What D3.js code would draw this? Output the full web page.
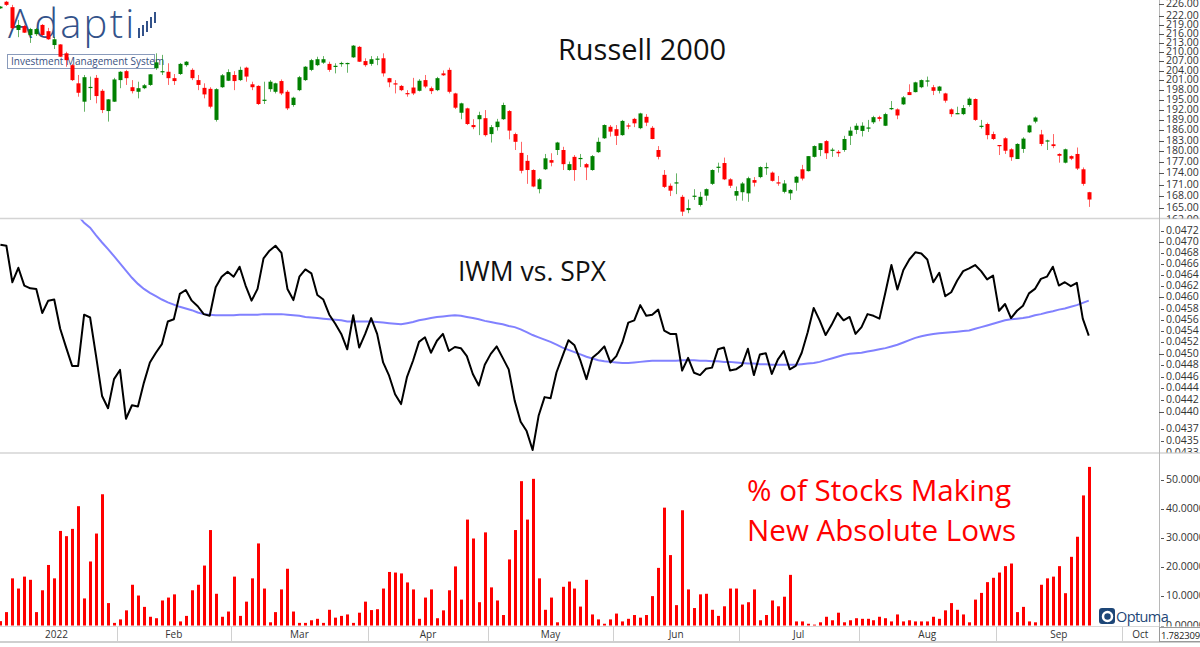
<!DOCTYPE html>
<html>
<head>
<meta charset="utf-8">
<script src="https://cdn.jsdelivr.net/npm/d3@7"></script>
<style>
  body { margin: 0; background: #fff; }
  text { font-family: "Open Sans", "Noto Sans", sans-serif; }
</style>
</head>
<body>
<div id="chart"></div>
<script>
// IWM daily candles, 3 Jan 2022 .. 23 Sep 2022 (one entry per trading day)
const opens = [224.6,226.9,225.0,217.2,218.5,215.5,215.8,218.9,216.8,212.2,212.4,209.5,205.7,200.0,194.4,198.6,201.7,197.7,191.6,194.4,
201.0,203.8,198.8,197.4,198.5,199.5,204.7,203.6,203.6,201.6,202.9,205.7,204.2,201.0,198.6,198.3,189.0,198.8,200.8,202.6,
201.0,204.9,199.7,199.2,194.8,198.2,197.4,200.7,197.4,193.4,197.9,201.0,204.2,205.7,206.5,206.1,205.2,206.2,206.2,208.2,
211.6,207.0,206.1,207.6,207.9,201.6,200.0,199.2,197.0,198.7,197.7,201.0,198.5,197.9,203.1,204.2,196.9,191.1,192.4,187.5,
189.2,189.5,184.9,186.9,189.2,191.6,184.9,179.6,177.4,174.9,169.8,175.1,177.6,180.4,180.4,174.9,178.5,178.0,176.5,174.9,
179.8,183.7,187.0,186.3,184.6,187.4,189.3,186.6,189.9,186.7,180.4,173.6,170.7,171.4,167.8,164.4,168.0,165.7,168.1,171.2,
175.6,176.8,172.4,168.1,169.0,168.7,172.2,173.0,175.5,174.2,171.6,169.1,168.7,171.5,175.1,174.6,178.5,180.4,182.9,180.3,
179.9,180.4,184.4,186.1,185.8,186.6,188.3,189.8,187.3,192.3,192.1,193.6,197.3,197.3,198.8,200.7,198.8,197.7,196.9,192.1,
190.8,190.7,193.4,195.2,187.1,187.8,184.9,181.8,183.7,180.6,177.9,180.7,185.4,188.5,184.8,182.9,182.0,179.3,176.9,178.7,
179.3,175.1,169.0];
const highs = [225.4,227.2,225.8,220.6,218.9,217.9,217.9,219.2,217.9,214.9,212.5,210.0,206.1,202.6,202.6,202.1,202.6,198.2,195.2,201.7,
203.8,204.2,201.0,200.5,199.8,202.9,209.5,209.0,206.3,202.9,206.4,207.0,204.7,202.6,200.0,198.8,198.5,202.9,204.4,203.8,
205.2,205.2,200.5,199.4,200.5,201.0,200.2,201.2,197.9,195.9,202.3,205.4,207.7,208.4,208.6,206.8,206.3,206.8,206.5,212.2,
211.9,207.9,208.6,208.6,209.5,201.7,201.0,199.5,197.9,201.7,201.3,202.6,199.0,202.0,204.0,204.9,197.1,194.1,192.6,189.2,
191.4,191.9,187.5,189.3,194.1,191.9,185.3,182.7,179.0,175.1,172.7,179.3,179.5,182.7,181.3,177.2,179.0,179.3,176.8,179.0,
183.9,187.7,187.5,187.5,189.0,188.0,189.6,191.1,190.7,187.2,181.5,174.9,171.3,174.0,168.3,167.1,169.8,169.1,170.0,175.1,
176.9,178.3,172.7,170.5,171.7,173.1,173.0,175.9,176.9,174.5,173.3,172.2,169.8,173.3,176.3,178.7,181.7,182.3,183.2,181.0,
180.4,184.4,187.0,188.0,188.3,189.0,190.2,190.2,191.1,194.6,192.4,196.1,199.7,200.5,201.2,202.1,199.5,199.2,197.1,192.4,
192.9,193.4,195.7,195.4,189.0,188.2,185.6,181.8,184.0,180.9,182.3,184.0,187.6,190.0,186.1,183.3,184.9,179.5,180.8,178.9,
181.1,175.6,169.1];
const lows = [224.4,225.4,217.5,214.8,216.2,212.9,215.2,215.2,213.9,210.9,208.3,205.2,200.7,195.9,191.4,194.9,193.9,191.0,188.5,194.3,
198.5,199.5,196.9,195.4,198.2,199.2,204.2,202.6,199.5,199.5,202.6,205.2,201.0,197.9,195.4,192.4,188.5,198.6,200.7,197.9,
200.7,200.5,197.9,193.4,193.7,197.4,196.9,196.4,191.9,192.9,197.6,200.7,203.8,205.4,206.1,203.6,203.1,205.2,203.3,208.0,
206.7,205.2,205.5,205.7,202.1,198.8,196.9,197.6,195.9,196.4,197.5,198.5,196.7,197.6,202.3,196.9,192.2,189.2,187.5,186.3,
184.6,184.2,182.5,185.9,189.0,183.4,180.4,174.0,171.2,170.3,168.7,174.9,175.9,179.0,174.9,174.7,172.0,175.7,172.2,174.7,
179.6,183.5,184.2,181.8,184.4,186.3,186.9,186.3,187.2,183.4,177.8,170.1,168.0,168.5,162.9,163.6,167.0,165.3,166.8,170.9,
174.2,172.2,170.1,166.8,166.8,166.5,170.5,172.7,173.6,171.8,170.7,168.7,167.0,169.4,172.1,174.5,178.3,178.7,177.9,178.5,
178.5,179.9,181.8,184.9,184.2,185.5,187.8,188.6,187.2,191.9,189.2,193.4,196.4,197.2,198.5,199.0,196.4,196.9,194.1,189.9,
190.7,190.4,192.9,188.7,186.5,183.4,183.2,179.0,179.3,177.4,177.9,179.6,185.2,188.0,181.5,180.4,180.9,176.9,176.7,177.6,
174.9,170.7,165.2];
const closes = [225.2,225.8,217.8,218.9,216.3,217.5,217.5,215.5,214.1,214.1,208.4,207.3,201.0,197.1,201.9,198.9,196.1,191.9,195.1,201.2,
203.6,201.6,197.6,198.5,199.4,202.8,206.6,203.8,201.6,200.7,206.1,206.8,201.6,199.5,196.6,192.9,198.2,202.5,203.5,200.7,
204.2,202.1,198.8,193.7,195.0,200.5,200.0,196.9,192.4,195.6,201.9,205.2,207.3,207.6,207.6,204.2,205.5,206.4,206.4,212.0,
206.8,205.7,207.6,207.8,203.1,200.3,199.7,197.9,196.8,196.9,200.8,199.0,197.6,201.6,202.5,197.4,192.6,193.9,187.8,186.9,
190.4,184.6,186.9,188.5,193.4,185.9,182.7,174.7,174.9,170.5,172.4,178.1,176.9,182.5,176.5,176.5,174.9,178.2,175.6,178.7,
182.7,187.5,185.6,184.4,188.7,187.2,188.0,190.9,188.2,183.5,178.5,170.4,169.4,171.6,164.0,164.9,168.1,167.8,169.8,174.9,
175.8,172.4,170.7,169.3,171.3,172.7,171.5,175.7,175.7,172.0,171.3,171.3,169.6,173.1,172.6,178.7,181.5,182.3,179.5,180.5,
179.5,183.5,185.9,187.3,187.3,186.8,189.8,189.3,190.7,192.5,190.3,195.7,196.4,200.3,201.0,200.9,197.7,199.0,194.7,190.7,
191.0,192.5,195.3,189.0,187.3,184.6,183.5,181.5,180.2,178.4,182.1,183.6,187.4,189.7,182.1,183.1,181.5,178.8,180.6,178.0,
175.3,171.2,167.1];

// IWM / SPX ratio and its moving average (null where the average is off the top)
const ratio = [0.04695,0.04693,0.04627,0.04653,0.04621,0.04616,0.04615,0.04572,0.04594,0.04596,0.04544,0.04511,0.04479,0.04479,0.04569,0.04564,0.04496,0.04427,0.04406,0.04456,
0.04472,0.04388,0.04411,0.04409,0.04450,0.04485,0.04502,0.04517,0.04557,0.04561,0.04606,0.04613,0.04594,0.04584,0.04570,0.04567,0.04618,0.04637,0.04646,0.04637,
0.04655,0.04621,0.04594,0.04615,0.04670,0.04684,0.04693,0.04680,0.04615,0.04595,0.04637,0.04650,0.04643,0.04604,0.04596,0.04569,0.04553,0.04535,0.04508,0.04568,
0.04511,0.04535,0.04563,0.04535,0.04485,0.04462,0.04430,0.04413,0.04460,0.04488,0.04521,0.04529,0.04502,0.04523,0.04535,0.04505,0.04512,0.04510,0.04496,0.04465,
0.04445,0.04481,0.04500,0.04513,0.04493,0.04473,0.04419,0.04383,0.04367,0.04335,0.04393,0.04425,0.04423,0.04468,0.04496,0.04524,0.04515,0.04488,0.04456,0.04493,
0.04502,0.04513,0.04485,0.04496,0.04520,0.04555,0.04559,0.04586,0.04567,0.04569,0.04578,0.04541,0.04535,0.04535,0.04471,0.04493,0.04467,0.04463,0.04474,0.04476,
0.04508,0.04511,0.04471,0.04473,0.04480,0.04509,0.04463,0.04499,0.04501,0.04465,0.04490,0.04505,0.04473,0.04479,0.04502,0.04538,0.04581,0.04559,0.04533,0.04551,
0.04572,0.04559,0.04565,0.04535,0.04547,0.04570,0.04567,0.04562,0.04609,0.04658,0.04614,0.04649,0.04668,0.04681,0.04679,0.04668,0.04627,0.04644,0.04602,0.04609,
0.04630,0.04647,0.04652,0.04658,0.04647,0.04632,0.04639,0.04576,0.04588,0.04563,0.04576,0.04585,0.04607,0.04615,0.04633,0.04637,0.04655,0.04621,0.04627,0.04620,
0.04626,0.04562,0.04532];
const ratioAvg = [null,null,null,null,null,null,null,null,null,null,null,null,0.04762,0.04748,0.04735,0.04726,0.04712,0.04699,0.04687,0.04674,
0.04661,0.04648,0.04635,0.04624,0.04615,0.04608,0.04602,0.04596,0.04591,0.04587,0.04583,0.04580,0.04577,0.04573,0.04570,0.04569,0.04568,0.04568,0.04568,0.04568,
0.04569,0.04569,0.04569,0.04569,0.04570,0.04570,0.04570,0.04570,0.04569,0.04568,0.04567,0.04565,0.04564,0.04563,0.04562,0.04561,0.04560,0.04559,0.04557,0.04557,
0.04557,0.04557,0.04557,0.04556,0.04555,0.04554,0.04553,0.04552,0.04554,0.04556,0.04559,0.04561,0.04563,0.04565,0.04566,0.04567,0.04568,0.04567,0.04565,0.04563,
0.04561,0.04558,0.04556,0.04554,0.04552,0.04549,0.04547,0.04543,0.04538,0.04533,0.04529,0.04525,0.04521,0.04516,0.04511,0.04507,0.04503,0.04499,0.04495,0.04492,
0.04489,0.04487,0.04486,0.04485,0.04484,0.04484,0.04485,0.04486,0.04487,0.04488,0.04488,0.04488,0.04488,0.04488,0.04489,0.04489,0.04489,0.04488,0.04488,0.04487,
0.04487,0.04486,0.04486,0.04485,0.04484,0.04483,0.04483,0.04482,0.04482,0.04481,0.04481,0.04481,0.04481,0.04481,0.04482,0.04483,0.04484,0.04486,0.04489,0.04492,
0.04495,0.04498,0.04500,0.04501,0.04502,0.04504,0.04506,0.04508,0.04510,0.04513,0.04516,0.04520,0.04524,0.04528,0.04531,0.04533,0.04535,0.04536,0.04537,0.04538,
0.04539,0.04540,0.04541,0.04544,0.04547,0.04550,0.04553,0.04556,0.04559,0.04561,0.04562,0.04563,0.04565,0.04568,0.04570,0.04573,0.04575,0.04578,0.04580,0.04583,
0.04586,0.04590,0.04594];

// % of stocks making new absolute lows
const newLows = [1.5,4.6,16.2,12.7,16.8,15.7,4.6,12.1,20.8,16.2,32.5,30.7,33.2,41.0,9.3,22.0,31.6,45.1,7.7,0.9,
2.1,5.2,14.0,10.3,6.4,3.0,2.5,8.6,9.6,10.7,1.4,3.3,12.1,14.0,20.6,32.8,10.9,3.0,4.8,16.8,
3.3,8.2,16.2,28.2,12.7,1.1,4.6,12.4,19.5,4.8,0.9,0.9,1.8,2.3,0.9,5.4,2.7,3.3,3.8,0.9,
4.4,8.2,5.3,5.6,12.7,18.4,18.2,17.9,14.8,12.4,2.3,9.6,12.4,2.5,5.2,12.1,20.3,8.9,36.4,29.9,
8.0,32.0,13.1,8.6,3.6,22.7,32.8,49.6,36.4,50.4,16.2,5.4,9.6,1.1,13.3,15.1,12.7,6.5,15.7,3.8,
2.1,0.6,2.1,4.1,1.4,2.3,3.6,2.7,3.6,10.1,19.8,40.5,24.2,7.0,39.6,12.4,6.0,10.7,10.9,5.4,
3.3,6.6,12.7,12.7,7.2,8.0,12.4,1.8,3.6,8.6,6.6,9.9,17.4,1.4,1.4,0.6,0.3,1.1,3.0,1.8,
4.4,1.1,1.8,2.5,2.3,2.3,1.8,3.0,2.5,1.4,3.8,1.4,1.8,1.4,1.4,1.4,3.0,2.3,5.2,7.7,
5.4,3.8,1.1,8.9,11.2,14.9,16.4,18.2,20.4,21.3,4.6,6.4,1.4,1.1,14.0,16.2,16.8,20.4,11.1,23.6,
30.5,44.7,54.5];

// x axis: month labels and the trading-day index where each month starts
const monthLabels = ["2022","Feb","Mar","Apr","May","Jun","Jul","Aug","Sep","Oct"];
const monthStarts = [0,20,39,62,82,103,124,144,167,188];

// right axis tick values
const priceTicks = [162,165,168,171,174,177,180,183,186,189,192,195,198,201,204,207,210,213,216,219,222,226];
const ratioTicks = [0.0472,0.0470,0.0468,0.0466,0.0464,0.0462,0.0460,0.0458,0.0456,0.0454,0.0452,0.0450,0.0448,0.0446,0.0444,0.0442,0.0440,0.0437,0.0435,0.0433];
const lowsTicks = [0,10,20,30,40,50];

var width = 1200;
var height = 647;
var plotRight = 1159;
var n = closes.length;

const svg = d3.select("#chart")
    .append("svg")
    .attr("width", width)
    .attr("height", height);

const x = d3.scaleLinear().domain([0, n - 1]).range([0.4, 0.4 + 5.98 * (n - 1)]);
const yPrice = d3.scaleLog().domain([165, 226]).range([207.7, 4.3]);
const yRatio = d3.scaleLog().domain([0.0440, 0.0472]).range([411.7, 231]);
const yLows = d3.scaleLinear().domain([0, 50]).range([625.5, 480]);

// panels: [top, bottom]
const panels = [[0, 218.5], [219.5, 452.5], [453.5, 626.5]];
const defs = svg.append("defs");
panels.forEach(function (p, k) {
    defs.append("clipPath").attr("id", "clip" + k)
        .append("rect").attr("x", 0).attr("y", p[0]).attr("width", plotRight).attr("height", p[1] - p[0]);
    defs.append("clipPath").attr("id", "clipAxis" + k)
        .append("rect").attr("x", plotRight).attr("y", p[0]).attr("width", width - plotRight).attr("height", p[1] - p[0]);
});

// Adaptiv logo (sits behind the candles)
const logo = svg.append("g");
logo.append("text")
    .attr("x", 8).attr("y", 38)
    .attr("font-size", 40)
    .attr("font-weight", 300)
    .attr("letter-spacing", 2.2)
    .attr("fill", "#33528a")
    .attr("font-family", "Lato, sans-serif")
    .text("Adapti");
[[139, 28, 38], [143, 25, 36], [147, 21, 32], [151, 17, 28], [155, 12, 23]].forEach(function (b) {
    logo.append("line").attr("x1", b[0]).attr("x2", b[0]).attr("y1", b[1]).attr("y2", b[2])
        .attr("stroke", "#33528a").attr("stroke-width", 2);
});
logo.append("rect")
    .attr("x", 7.5).attr("y", 54.5).attr("width", 147).attr("height", 14)
    .attr("fill", "none").attr("stroke", "#8a9bbb");
logo.append("text")
    .attr("x", 11).attr("y", 65)
    .attr("font-size", 10)
    .attr("fill", "#3a5080")
    .text("Investment Management System");

// candles
const candles = svg.append("g").attr("clip-path", "url(#clip0)");
function candleColor(i) { return closes[i] >= opens[i] ? "#008000" : "#ff0000"; }

candles.selectAll(".wick")
    .data(d3.range(n))
    .enter().append("line")
    .attr("class", "wick")
    .attr("x1", i => Math.round(x(i)) + 0.5)
    .attr("x2", i => Math.round(x(i)) + 0.5)
    .attr("y1", i => yPrice(highs[i]))
    .attr("y2", i => yPrice(lows[i]))
    .attr("stroke", candleColor)
    .attr("stroke-opacity", 0.6)
    .attr("stroke-width", 1);

candles.selectAll(".body")
    .data(d3.range(n))
    .enter().append("rect")
    .attr("class", "body")
    .attr("x", i => Math.round(x(i)) - 1.5)
    .attr("width", 4)
    .attr("y", i => yPrice(Math.max(opens[i], closes[i])))
    .attr("height", i => Math.max(1.2, Math.abs(yPrice(opens[i]) - yPrice(closes[i]))))
    .attr("fill", candleColor);

// ratio panel
const mid = svg.append("g").attr("clip-path", "url(#clip1)");
mid.append("path")
    .datum(ratioAvg)
    .attr("fill", "none")
    .attr("stroke", "#6b6bff")
    .attr("stroke-opacity", 0.85)
    .attr("stroke-width", 2)
    .attr("d", d3.line().defined(d => d != null).x((d, i) => x(i)).y(d => yRatio(d)));
mid.append("path")
    .datum(ratio)
    .attr("fill", "none")
    .attr("stroke", "#000")
    .attr("stroke-width", 2)
    .attr("stroke-linejoin", "round")
    .attr("d", d3.line().x((d, i) => x(i)).y(d => yRatio(d)));

// new lows histogram
const bot = svg.append("g").attr("clip-path", "url(#clip2)");
bot.selectAll(".bar")
    .data(newLows)
    .enter().append("rect")
    .attr("class", "bar")
    .attr("x", (d, i) => Math.round(x(i)) - 1)
    .attr("width", 3)
    .attr("y", d => yLows(d))
    .attr("height", d => yLows(0) - yLows(d))
    .attr("fill", "#ff0000");

// titles
svg.append("text").attr("x", 642).attr("y", 60).attr("text-anchor", "middle")
    .attr("font-size", 29).attr("fill", "#111").text("Russell 2000");
svg.append("text").attr("x", 532).attr("y", 281).attr("text-anchor", "middle")
    .attr("font-size", 26.5).attr("fill", "#111").text("IWM vs. SPX");
svg.append("text").attr("x", 747).attr("y", 501)
    .attr("font-size", 29.6).attr("fill", "#ff0000").text("% of Stocks Making");
svg.append("text").attr("x", 747).attr("y", 541)
    .attr("font-size", 29.6).attr("fill", "#ff0000").text("New Absolute Lows");

// separators and right axis
[218.5, 453].forEach(function (yy) {
    svg.append("line").attr("x1", 0).attr("x2", width).attr("y1", yy).attr("y2", yy)
        .attr("stroke", "#d4d4d4").attr("stroke-width", 1.5);
});
svg.append("line").attr("x1", plotRight + 0.5).attr("x2", plotRight + 0.5).attr("y1", 0).attr("y2", 642)
    .attr("stroke", "#b8b8b8");

function rightAxis(k, scale, ticks, fmt, isLong) {
    const g = svg.append("g").attr("clip-path", "url(#clipAxis" + k + ")");
    ticks.forEach(function (t) {
        const yy = Math.round(scale(t)) + 0.5;
        const lng = isLong(t);
        g.append("line")
            .attr("x1", lng ? plotRight : plotRight + 2).attr("x2", plotRight + 5)
            .attr("y1", yy).attr("y2", yy)
            .attr("stroke", "#555");
        g.append("text")
            .attr("x", 1166).attr("y", yy)
            .attr("dominant-baseline", "middle")
            .attr("font-size", 10.5)
            .attr("fill", "#333")
            .text(fmt(t));
    });
}
rightAxis(0, yPrice, priceTicks, t => t.toFixed(2), t => true);
rightAxis(1, yRatio, ratioTicks, t => t.toFixed(4), t => Math.round(t * 10000) % 10 == 0);
rightAxis(2, yLows, lowsTicks, t => t.toFixed(5), t => false);

// bottom date axis
const xa = svg.append("g");
xa.append("line").attr("x1", 0).attr("x2", plotRight).attr("y1", 626.5).attr("y2", 626.5).attr("stroke", "#d8d8d8");
xa.append("line").attr("x1", 0).attr("x2", width).attr("y1", 642).attr("y2", 642).attr("stroke", "#cfcfcf").attr("stroke-width", 2);
monthStarts.forEach(function (s, k) {
    const left = x(s - 0.5);
    const right = k < monthStarts.length - 1 ? x(monthStarts[k + 1] - 0.5) : plotRight;
    if (k > 0) {
        xa.append("line").attr("x1", Math.round(left) + 0.5).attr("x2", Math.round(left) + 0.5)
            .attr("y1", 627).attr("y2", 641).attr("stroke", "#d0d0d0");
    }
    xa.append("text")
        .attr("x", (Math.max(left, 0) + Math.min(right, plotRight)) / 2 - (k == 0 ? 2 : 0))
        .attr("y", 638)
        .attr("text-anchor", "middle")
        .attr("font-size", 10)
        .attr("fill", "#333")
        .text(monthLabels[k]);
});
// cursor value box at the bottom right
const vb = svg.append("g");
vb.append("rect").attr("x", plotRight + 0.5).attr("y", 627.5).attr("width", 45).attr("height", 14)
    .attr("fill", "#fff").attr("stroke", "#9a9a9a");
vb.append("text").attr("x", 1161).attr("y", 638.5).attr("font-size", 9.5).attr("letter-spacing", -0.2)
    .attr("fill", "#222").text("1.7823090");

// Optuma badge
const opt = svg.append("g");
opt.append("rect").attr("x", 1099).attr("y", 608).attr("width", 16).attr("height", 16).attr("rx", 3).attr("fill", "#1d4677");
opt.append("circle").attr("cx", 1107.5).attr("cy", 616.5).attr("r", 4.5).attr("fill", "none")
    .attr("stroke", "#fff").attr("stroke-width", 2.5);
opt.append("text").attr("x", 1116).attr("y", 622).attr("font-size", 14.5).attr("fill", "#1d4677")
    .attr("letter-spacing", -0.6).text("Optuma");
</script>
</body>
</html>
